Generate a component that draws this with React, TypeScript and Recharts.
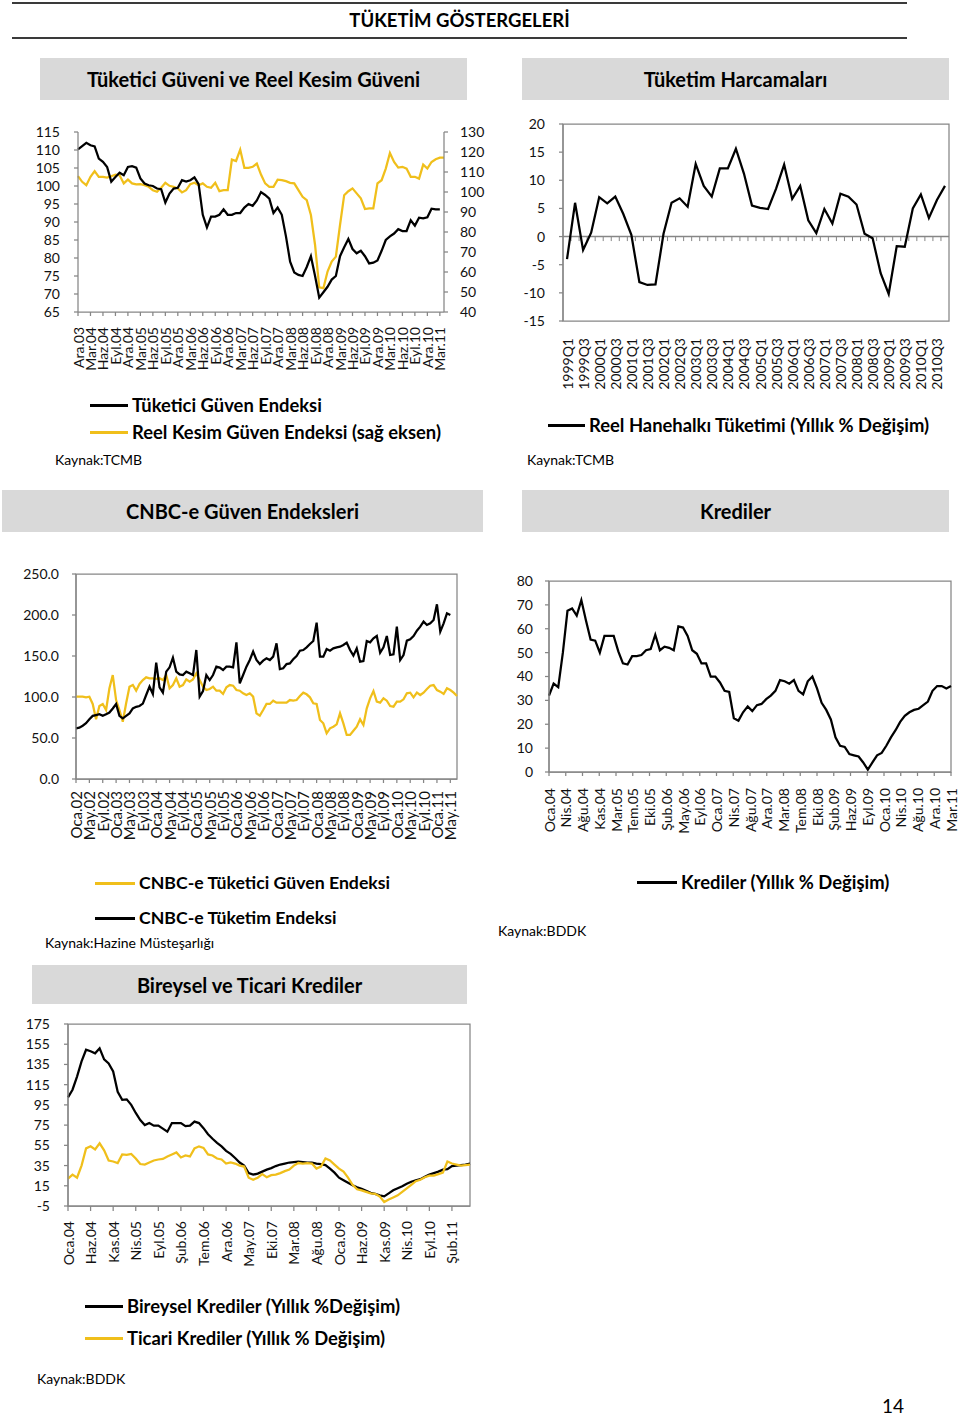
import React from 'react';
import { LineChart, Line, XAxis, YAxis, ReferenceLine, ReferenceArea } from 'recharts';

const FONT = "Lato, 'Open Sans', 'DejaVu Sans', sans-serif";
const AXIS = '#868686';
const GOLD = '#F0BF1B';
const TXT = '#111111';

const AYLAR = ['Oca', 'Şub', 'Mar', 'Nis', 'May', 'Haz', 'Tem', 'Ağu', 'Eyl', 'Eki', 'Kas', 'Ara'];
function monthLabels(year: number, month: number, count: number): string[] {
  const out: string[] = [];
  for (let k = 0; k < count; k++) {
    const m = month + k;
    const y = year + Math.floor(m / 12);
    out.push(AYLAR[m % 12] + '.' + String(y % 100).padStart(2, '0'));
  }
  return out;
}

// ---------- Chart 1: Tüketici Güveni ve Reel Kesim Güveni ----------
const c1Categories = monthLabels(2003, 11, 89); // Ara.03 .. Nis.11
const tuketiciGuven = [
  110.2, 111.1, 112, 111.3, 111, 107.6, 106.7, 105.3, 101.2, 102.5,
  103.7, 103, 105.3, 105.5, 105.1, 102.1, 100.7, 100.2, 100, 99.3,
  99.1, 95.4, 97.9, 99.3, 99.5, 101.6, 101.2, 101.6, 102.4, 100.5,
  92, 88.5, 91.5, 91.5, 92, 93.5, 92, 92, 92.5, 92.5,
  94, 95, 94.5, 96, 98.3, 97.5, 96.5, 92.5, 94, 92,
  86, 79, 76, 75.3, 75, 77.5, 80.5, 75, 69, 70.5,
  72, 74, 75, 80.5, 83, 85.3, 82.5, 81.3, 82, 80.5,
  78.5, 78.7, 79.3, 82, 85, 86, 86.8, 88, 87.5, 87.5,
  90.5, 89, 91.2, 91, 91.3, 93.7, 93.5, 93.5, null,
];
const reelKesimGuven = [
  107.9, 105.1, 103.4, 107.6, 110.4, 107.6, 107.6, 107.2, 107.9, 108.7,
  108.4, 104.3, 106.2, 104.3, 103.8, 103.9, 103.4, 102.6, 100.9, 100.1,
  102.1, 104.6, 103.1, 102.6, 101.8, 99.8, 100.9, 103.9, 104.6, 103.4,
  104.3, 102.6, 102.1, 104.6, 100.4, 100.9, 100.9, 116.2, 115.5, 121.2,
  112.1, 112.1, 112.6, 114.2, 108.7, 104.3, 102.6, 102.6, 106.2, 105.9,
  105.4, 104.6, 104.3, 100.9, 97.6, 95.9, 88.5, 73.5, 52.3, 51.9,
  60.2, 65.2, 67.7, 83.5, 98.4, 100.4, 101.8, 99.3, 96.8, 91.5,
  91.8, 91.8, 104.3, 105.9, 111.7, 119.5, 115, 112.2, 112.6, 111.7,
  107.6, 107.6, 106.7, 113.7, 111.7, 115, 116.4, 117.2, 117.2,
];
const c1LeftTicks = [65, 70, 75, 80, 85, 90, 95, 100, 105, 110, 115];
const c1RightTicks = [40, 50, 60, 70, 80, 90, 100, 110, 120, 130];

// ---------- Chart 2: Tüketim Harcamaları ----------
const c2Quarters = (() => {
  const out: string[] = [];
  for (let y = 1999; y <= 2010; y++) for (let q = 1; q <= 4; q++) out.push(`${y}Q${q}`);
  return out;
})();
const reelHanehalki = [
  -4.0, 6.0, -2.4, 0.7, 7.0, 5.9, 7.1, 4.0, 0.3, -8.1,
  -8.6, -8.5, 0.5, 6.0, 6.8, 5.3, 12.9, 9.0, 7.1, 12.1,
  12.1, 15.6, 11.2, 5.5, 5.1, 4.9, 8.5, 12.8, 6.7, 9.0,
  2.9, 0.6, 4.9, 2.3, 7.6, 7.1, 5.7, 0.5, -0.3, -6.5,
  -10.2, -1.7, -1.8, 5.0, 7.5, 3.3, 6.5, 9.0,
];
const c2YTicks = [-15, -10, -5, 0, 5, 10, 15, 20];
const c2XTicks = c2Quarters.map((_, i) => i).filter((i) => i % 2 === 0);

// ---------- Chart 3: CNBC-e Güven Endeksleri ----------
const c3Categories = monthLabels(2002, 0, 115); // Oca.02 .. Tem.11
const cnbcTuketim = [
  61.8, 62.6, 65, 68, 72.8, 77, 78, 79, 77, 79,
  81, 86, 91.5, 77, 74, 77, 80, 86, 88, 89,
  92, 102.4, 112.6, 103.7, 141.9, 111.8, 105.3, 130.9, 136.2, 148,
  131, 127.6, 126.8, 130.9, 128.9, 126.8, 157.3, 100.4, 107.3, 126.8,
  120.7, 126.8, 137, 135.8, 132.9, 137, 137, 136.2, 166.7, 116.7,
  126.8, 137, 145.1, 155.3, 145.1, 140.2, 144.3, 147.2, 145.1, 149.2,
  165.4, 134.1, 135, 140.2, 141, 146, 150, 156.5, 157.3, 160.6,
  164.6, 168.3, 190.7, 149.2, 149.2, 158.5, 156.5, 159.3, 160.6, 161.4,
  163.4, 166.3, 157.3, 150.4, 159.3, 143.1, 143.9, 168.3, 166.7, 171.5,
  174.4, 154, 160.6, 174.4, 151.2, 152, 185.8, 145.1, 151.2, 168.7,
  170.3, 174.4, 180.9, 185.8, 191.9, 187.8, 189.8, 193.9, 213, 179.7,
  189.8, 202, 200, null, null,
];
const cnbcGuven = [
  100.4, 100.4, 100.4, 99.6, 100.4, 91.5, 72.8, 89, 91.5, 84.1,
  110.6, 126.8, 96.3, 84.1, 69.9, 92.3, 112.6, 114.6, 107.7, 115.9,
  120.7, 124, 122.8, 122.8, 122, 122.8, 120.7, 126.8, 110.6, 114.6,
  122.8, 112.6, 114.6, 121.5, 118.7, 121.5, 128.9, 120.7, 112.6, 108.5,
  109.8, 112.6, 107.7, 107.7, 103.7, 111.8, 114.6, 113.8, 108.5, 107.7,
  104.5, 102.4, 104.5, 100.4, 80.1, 77.2, 84.1, 91.5, 91.5, 95.5,
  93.1, 93.1, 93.1, 93.1, 96.3, 95.5, 96.3, 101.2, 105.3, 103.3,
  99.6, 92.3, 91.5, 72, 67.9, 55.7, 61.8, 63.8, 66.7, 80.1,
  67.9, 53.7, 53.7, 58.9, 63.8, 72.8, 65.9, 86.2, 98.4, 107.3,
  94.3, 93.1, 98.4, 95.5, 89, 88.2, 94.3, 94.3, 97.2, 104.5,
  105.3, 99.6, 105.3, 102.4, 105.3, 109.8, 113.8, 114.6, 108.5, 106.5,
  103.7, 110.6, 108.5, 105.3, 101.2,
];
const c3YTicks = [0, 50, 100, 150, 200, 250];

// ---------- Chart 4: Krediler ----------
const c4Categories = monthLabels(2004, 0, 88); // Oca.04 .. Nis.11
const krediler = [
  32, 37, 35.5, 50, 67.5, 68.5, 65.5, 72, 63.5, 55.5,
  55, 50, 57, 57, 57, 50.5, 45.5, 45, 48.5, 48.5,
  49, 51, 51.5, 57.5, 51, 52.5, 52, 51, 61, 60.5,
  57, 51, 49.5, 45.5, 45.5, 40, 40, 37.5, 34, 33.5,
  22.5, 21.5, 25, 27.5, 25.5, 28, 28.5, 30.5, 32, 34,
  38.5, 38, 37, 38.5, 34, 32.5, 38, 40, 35, 29,
  26, 22, 14.5, 11, 10.5, 7.5, 7, 6.5, 4, 1,
  4, 7, 8, 11, 14.5, 17.5, 21, 23.5, 25, 26,
  26.5, 28, 29.5, 34, 36, 36, 35, 36,
];
const c4TickLabels = [
  'Oca.04', 'Nis.04', 'Ağu.04', 'Kas.04', 'Mar.05', 'Tem.05', 'Eki.05', 'Şub.06', 'May.06',
  'Eyl.06', 'Oca.07', 'Nis.07', 'Ağu.07', 'Ara.07', 'Mar.08', 'Tem.08', 'Eki.08', 'Şub.09',
  'Haz.09', 'Eyl.09', 'Oca.10', 'Nis.10', 'Ağu.10', 'Ara.10', 'Mar.11',
];
const c4YTicks = [0, 10, 20, 30, 40, 50, 60, 70, 80];

// ---------- Chart 5: Bireysel ve Ticari Krediler ----------
const c5Categories = monthLabels(2004, 0, 90); // Oca.04 .. Haz.11
const bireyselKrediler = [
  102.5, 110, 123, 138, 149.5, 148, 146, 151, 140, 136,
  128, 108, 100, 100.5, 95, 87, 80, 75, 77, 74.5,
  74.5, 71.5, 68.5, 77, 77, 77, 74, 74.5, 78.5, 77,
  72, 66, 61.5, 57.5, 54, 49.5, 46.5, 42.5, 38, 35,
  27.5, 26, 27, 29, 31, 32.5, 34.5, 36, 37, 38,
  38.5, 39, 38.5, 38, 38, 37, 36.5, 35.5, 32, 28,
  23, 20.5, 18, 15.5, 13.5, 12, 10, 8, 7, 5.5,
  4.5, 7.5, 10.5, 12.5, 14.5, 17, 19, 20.5, 21.5, 24,
  26, 27.5, 29, 31, 31.5, 34.5, 35, 35.5, 36, 37,
];
const ticariKrediler = [
  22, 26, 23, 35, 52, 54, 51, 57, 50, 40,
  39, 37.5, 46, 45.5, 46.5, 42, 36.5, 36, 38, 40,
  41, 41.5, 44, 46, 48, 43, 45, 44, 52, 54,
  52.5, 46, 45, 42, 41, 37, 38, 37, 35, 34,
  23, 21, 23, 26.5, 23.5, 25.5, 26, 27.5, 29.5, 31,
  35, 37.5, 37, 37.5, 37, 32, 34, 42, 40, 36,
  32, 29, 23, 16, 11.5, 10.5, 9, 7.5, 7, 4.5,
  -1, 1.5, 3.5, 5.5, 9, 12.5, 16, 19.5, 21, 23.5,
  25, 25, 26.5, 28, 39, 37, 36, 35, 35.5, 36,
];
const c5YTicks = [-5, 15, 35, 55, 75, 95, 115, 135, 155, 175];

// ---------- data tables ----------
const c1Data = c1Categories.map((c, i) => ({ c, tg: tuketiciGuven[i], rk: reelKesimGuven[i] }));
const c2Data = reelHanehalki.map((v, i) => ({ i, v }));
const c3Data = c3Categories.map((c, i) => ({ c, t: cnbcTuketim[i], g: cnbcGuven[i] }));
const c4Data = krediler.map((v, i) => ({ i, c: c4Categories[i], v }));
const c5Data = c5Categories.map((c, i) => ({ c, b: bireyselKrediler[i], t: ticariKrediler[i] }));

const yTick = { fontSize: 14, fill: TXT, fontFamily: FONT };

function RotTick(props: any) {
  const { x, y, payload, index, gap, labels, size = 14 } = props;
  const label = labels ? labels(payload.value, index) : payload.value;
  const yy = y + gap;
  return (
    <text
      x={x}
      y={yy}
      transform={`rotate(-90 ${x} ${yy})`}
      textAnchor="end"
      dominantBaseline="central"
      fontSize={size}
      fill={TXT}
      fontFamily={FONT}
    >
      {label}
    </text>
  );
}

function Header({ x, y, w, h, text }: { x: number; y: number; w: number; h: number; text: string }) {
  return (
    <div
      style={{
        position: 'absolute', left: x, top: y, width: w, height: h, background: '#d9d9d9',
        display: 'flex', alignItems: 'center', justifyContent: 'center',
        fontWeight: 700, fontSize: 20, color: '#000',
      }}
    >
      {text}
    </div>
  );
}

function LegendRow({ x, y, color, text, lineW = 38, size = 18.4 }: { x: number; y: number; color: string; text: string; lineW?: number; size?: number }) {
  return (
    <>
      <div style={{ position: 'absolute', left: x, top: y - 1, width: lineW, height: 2.5, background: color }} />
      <div
        style={{
          position: 'absolute', left: x + lineW + 4, top: y - 12, height: 24, lineHeight: '24px',
          fontSize: size, fontWeight: 700, color: '#000', whiteSpace: 'nowrap',
        }}
      >
        {text}
      </div>
    </>
  );
}

function Source({ x, y, text }: { x: number; y: number; text: string }) {
  return (
    <div style={{ position: 'absolute', left: x, top: y - 10, lineHeight: '20px', fontSize: 14, color: '#000', whiteSpace: 'nowrap' }}>
      {text}
    </div>
  );
}

export default function App() {
  return (
    <div style={{ position: 'absolute', left: 0, top: 0, width: 960, height: 1416, background: '#fff', fontFamily: FONT, overflow: 'hidden' }}>
      {/* Title */}
      <div style={{ position: 'absolute', left: 12, top: 2, width: 895, borderTop: '2px solid #3a3a3a' }} />
      <div style={{ position: 'absolute', left: 12, top: 9, width: 895, textAlign: 'center', fontSize: 18.5, fontWeight: 700, lineHeight: '22px' }}>
        TÜKETİM GÖSTERGELERİ
      </div>
      <div style={{ position: 'absolute', left: 12, top: 37, width: 895, borderTop: '2px solid #3a3a3a' }} />

      <Header x={40} y={58} w={427} h={42} text="Tüketici Güveni ve Reel Kesim Güveni" />
      <Header x={522} y={58} w={427} h={42} text="Tüketim Harcamaları" />
      <Header x={2} y={490} w={481} h={42} text="CNBC-e Güven Endeksleri" />
      <Header x={522} y={490} w={427} h={42} text="Krediler" />
      <Header x={32} y={965} w={435} h={39} text="Bireysel ve Ticari Krediler" />

      {/* Chart 1 */}
      <div style={{ position: 'absolute', left: 0, top: 120 }}>
        <LineChart width={490} height={257} data={c1Data} margin={{ top: 12, right: 6, bottom: 0, left: 0 }}>
          <XAxis
            dataKey="c" interval={2} height={65} stroke={AXIS} strokeWidth={1.25}
            tickSize={4} tickMargin={2}
            tick={(p: any) => <RotTick {...p} gap={9} />}
          />
          <YAxis
            yAxisId="l" domain={[65, 115]} ticks={c1LeftTicks} interval={0} width={78} stroke={AXIS} strokeWidth={1.25}
            tickSize={4} tickMargin={14} tick={yTick} allowDataOverflow
          />
          <YAxis
            yAxisId="r" orientation="right" domain={[40, 130]} ticks={c1RightTicks} interval={0} width={40} stroke={AXIS} strokeWidth={1.25}
            tickSize={4} tickMargin={12} tick={{ ...yTick, textAnchor: 'start' }} allowDataOverflow
          />
          <Line yAxisId="r" dataKey="rk" stroke={GOLD} strokeWidth={2.25} dot={false} isAnimationActive={false} />
          <Line yAxisId="l" dataKey="tg" stroke="#000" strokeWidth={2.25} dot={false} isAnimationActive={false} />
        </LineChart>
      </div>
      <LegendRow x={90} y={405} color="#000" text="Tüketici Güven Endeksi" />
      <LegendRow x={90} y={432} color={GOLD} text="Reel Kesim Güven Endeksi (sağ eksen)" />
      <Source x={55} y={460} text="Kaynak:TCMB" />

      {/* Chart 2 */}
      <div style={{ position: 'absolute', left: 480, top: 110 }}>
        <LineChart width={470} height={286} data={c2Data} margin={{ top: 14, right: 1, bottom: 0, left: 0 }}>
          <XAxis
            dataKey="i" type="number" domain={[-0.5, 47.5]} ticks={c2XTicks} interval={0} height={75}
            axisLine={false} tickLine={false} tickSize={0} tickMargin={0}
            tick={(p: any) => <RotTick {...p} gap={17} labels={(v: number) => c2Quarters[v]} />}
          />
          <YAxis
            domain={[-15, 20]} ticks={c2YTicks} interval={0} width={83} stroke={AXIS} strokeWidth={1.25}
            tickSize={4} tickMargin={14} tick={yTick}
          />
          <ReferenceArea x1={-0.5} x2={47.5} y1={-15} y2={20} fill="none" fillOpacity={0} stroke={AXIS} strokeWidth={1.25} ifOverflow="visible" />
          <ReferenceLine y={0} stroke={AXIS} strokeWidth={1.5} />
          {c2Quarters.slice(1).map((_, k) => (
            <ReferenceLine
              key={k}
              segment={[{ x: k + 0.5, y: 0 }, { x: k + 0.5, y: -0.8 }]}
              stroke={AXIS}
              strokeWidth={1}
            />
          ))}
          <Line dataKey="v" stroke="#000" strokeWidth={2.25} dot={false} isAnimationActive={false} />
        </LineChart>
      </div>
      <LegendRow x={548} y={425} color="#000" text="Reel Hanehalkı Tüketimi (Yıllık % Değişim)" lineW={37} />
      <Source x={527} y={460} text="Kaynak:TCMB" />

      {/* Chart 3 */}
      <div style={{ position: 'absolute', left: 0, top: 560 }}>
        <LineChart width={460} height={289} data={c3Data} margin={{ top: 14, right: 3, bottom: 0, left: 0 }}>
          <XAxis
            dataKey="c" interval={3} height={70} stroke={AXIS} strokeWidth={1.25}
            tickSize={4} tickMargin={2}
            tick={(p: any) => <RotTick {...p} gap={6} size={15} />}
          />
          <YAxis
            domain={[0, 250]} ticks={c3YTicks} interval={0} width={76} stroke={AXIS} strokeWidth={1.25}
            tickSize={4} tickMargin={13} tick={yTick} tickFormatter={(v: number) => v.toFixed(1)}
          />
          <ReferenceArea x1={c3Categories[0]} x2={c3Categories[c3Categories.length - 1]} y1={0} y2={250} fill="none" fillOpacity={0} stroke={AXIS} strokeWidth={1.25} ifOverflow="visible" />
          <Line dataKey="g" stroke={GOLD} strokeWidth={2.25} dot={false} isAnimationActive={false} />
          <Line dataKey="t" stroke="#000" strokeWidth={2.25} dot={false} isAnimationActive={false} />
        </LineChart>
      </div>
      <LegendRow x={95} y={883} color={GOLD} text="CNBC-e Tüketici Güven Endeksi" lineW={40} size={17.7} />
      <LegendRow x={95} y={918} color="#000" text="CNBC-e Tüketim Endeksi" lineW={40} size={17.7} />
      <Source x={45} y={943} text="Kaynak:Hazine Müsteşarlığı" />

      {/* Chart 4 */}
      <div style={{ position: 'absolute', left: 480, top: 565 }}>
        <LineChart width={480} height={273} data={c4Data} margin={{ top: 16, right: 9, bottom: 0, left: 0 }}>
          <XAxis
            dataKey="i" type="number" domain={[0, krediler.length - 1]}
            ticks={c4TickLabels.map((_, k) => (k * (krediler.length - 1)) / (c4TickLabels.length - 1))}
            interval={0} height={66} stroke={AXIS} strokeWidth={1.25} tickSize={4} tickMargin={2}
            tick={(p: any) => <RotTick {...p} gap={10} labels={(_v: number, idx: number) => c4TickLabels[idx]} />}
          />
          <YAxis
            domain={[0, 80]} ticks={c4YTicks} interval={0} width={69} stroke={AXIS} strokeWidth={1.25}
            tickSize={4} tickMargin={12} tick={yTick}
          />
          <ReferenceArea x1={0} x2={krediler.length - 1} y1={0} y2={80} fill="none" fillOpacity={0} stroke={AXIS} strokeWidth={1.25} ifOverflow="visible" />
          <Line dataKey="v" stroke="#000" strokeWidth={2.25} dot={false} isAnimationActive={false} />
        </LineChart>
      </div>
      <LegendRow x={637} y={882} color="#000" text="Krediler (Yıllık % Değişim)" lineW={40} />
      <Source x={498} y={931} text="Kaynak:BDDK" />

      {/* Chart 5 */}
      <div style={{ position: 'absolute', left: 0, top: 1010 }}>
        <LineChart width={472} height={261} data={c5Data} margin={{ top: 14, right: 2, bottom: 0, left: 0 }}>
          <XAxis
            dataKey="c" interval={4} height={65} stroke={AXIS} strokeWidth={1.25}
            tickSize={5} tickMargin={2}
            tick={(p: any) => <RotTick {...p} gap={8} />}
          />
          <YAxis
            domain={[-5, 175]} ticks={c5YTicks} interval={0} width={68} stroke={AXIS} strokeWidth={1.25}
            tickSize={4} tickMargin={14} tick={yTick}
          />
          <ReferenceArea x1={c5Categories[0]} x2={c5Categories[c5Categories.length - 1]} y1={-5} y2={175} fill="none" fillOpacity={0} stroke={AXIS} strokeWidth={1.25} ifOverflow="visible" />
          <Line dataKey="b" stroke="#000" strokeWidth={2.25} dot={false} isAnimationActive={false} />
          <Line dataKey="t" stroke={GOLD} strokeWidth={2.25} dot={false} isAnimationActive={false} />
        </LineChart>
      </div>
      <LegendRow x={85} y={1306} color="#000" text="Bireysel Krediler (Yıllık %Değişim)" />
      <LegendRow x={85} y={1338} color={GOLD} text="Ticari Krediler (Yıllık % Değişim)" />
      <Source x={37} y={1379} text="Kaynak:BDDK" />

      <div style={{ position: 'absolute', left: 882, top: 1395, fontSize: 19, lineHeight: '22px', color: '#000' }}>14</div>
    </div>
  );
}
